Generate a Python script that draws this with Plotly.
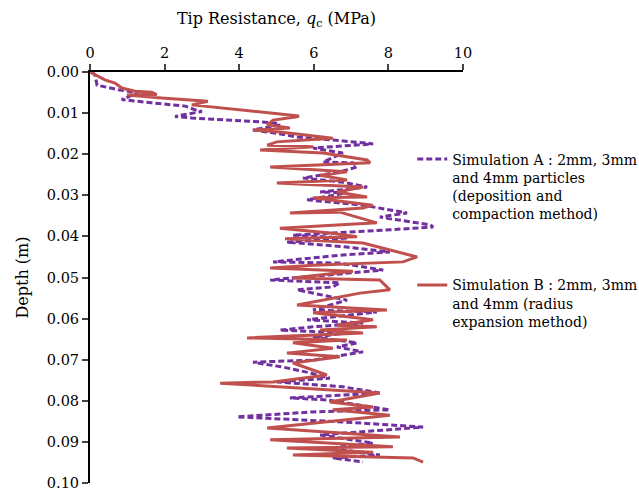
import plotly.graph_objects as go

# Simulation A (deposition and compaction) - tip resistance (MPa) vs depth (m)
a_qc = [0.05, 0.13, 0.19, 0.75, 1.29, 0.85, 1.65, 2.55, 2.82, 3.00, 2.28, 2.73, 4.34, 4.96,
        5.09, 4.37, 4.91, 5.55, 7.43, 7.59, 5.98, 6.78, 6.25, 7.05, 7.16, 6.70, 5.71, 6.78,
        7.43, 6.17, 6.89, 5.98, 5.82, 7.32, 8.50, 7.77, 9.12, 9.20, 8.04, 5.44, 6.89, 5.28,
        6.89, 8.04, 6.78, 4.91, 6.70, 7.51, 7.86, 4.83, 6.70, 6.51, 5.55, 6.89, 5.98, 7.69,
        5.82, 7.32, 5.98, 5.09, 6.89, 5.98, 7.16, 6.62, 7.32, 5.98, 4.37, 5.17, 5.90, 6.43,
        5.01, 6.78, 7.77, 5.36, 6.35, 8.04, 5.98, 3.94, 6.89, 8.93, 6.17, 7.59, 6.43, 7.77,
        6.51, 7.32]
a_depth = [0.0000, 0.0007, 0.0032, 0.0043, 0.0051, 0.0067, 0.0075, 0.0083, 0.0092, 0.0096,
           0.0108, 0.0112, 0.0120, 0.0124, 0.0129, 0.0141, 0.0148, 0.0158, 0.0173, 0.0175,
           0.0185, 0.0197, 0.0219, 0.0221, 0.0231, 0.0243, 0.0258, 0.0268, 0.0280, 0.0292,
           0.0294, 0.0307, 0.0311, 0.0324, 0.0343, 0.0353, 0.0372, 0.0377, 0.0384, 0.0397,
           0.0404, 0.0414, 0.0426, 0.0438, 0.0445, 0.0462, 0.0465, 0.0477, 0.0482, 0.0506,
           0.0513, 0.0523, 0.0530, 0.0555, 0.0579, 0.0584, 0.0603, 0.0611, 0.0620, 0.0628,
           0.0635, 0.0645, 0.0659, 0.0669, 0.0681, 0.0701, 0.0706, 0.0718, 0.0732, 0.0745,
           0.0754, 0.0766, 0.0781, 0.0793, 0.0798, 0.0822, 0.0827, 0.0839, 0.0852, 0.0864,
           0.0883, 0.0903, 0.0915, 0.0932, 0.0939, 0.0949]

# Simulation B (radius expansion)
b_qc = [0.00, 0.40, 0.67, 0.85, 1.21, 1.65, 1.79, 0.99, 1.92, 2.63, 3.16, 2.73, 3.62, 5.23,
        5.60, 5.55, 4.91, 4.75, 5.36, 4.37, 5.09, 6.51, 5.01, 4.75, 5.98, 4.56, 6.25, 7.43,
        7.51, 4.83, 6.89, 6.17, 6.89, 5.01, 7.32, 6.62, 7.43, 5.98, 7.58, 7.32, 5.36, 6.70,
        7.69, 5.09, 6.43, 7.16, 5.23, 7.32, 8.77, 8.39, 5.98, 4.83, 7.05, 5.44, 7.77, 8.04,
        7.24, 5.55, 7.96, 5.98, 7.59, 6.62, 7.69, 6.17, 7.32, 4.21, 6.89, 5.44, 6.51, 5.28,
        6.70, 5.44, 5.98, 6.35, 4.91, 3.49, 7.77, 6.43, 7.59, 6.51, 8.04, 4.75, 8.31, 4.83,
        8.12, 5.28, 7.59, 5.44, 8.66, 8.93]
b_depth = [0.0000, 0.0019, 0.0027, 0.0039, 0.0047, 0.0049, 0.0055, 0.0056, 0.0063, 0.0067,
           0.0071, 0.0080, 0.0088, 0.0104, 0.0107, 0.0109, 0.0117, 0.0129, 0.0136, 0.0141,
           0.0146, 0.0161, 0.0170, 0.0178, 0.0182, 0.0190, 0.0197, 0.0214, 0.0221, 0.0231,
           0.0243, 0.0251, 0.0263, 0.0270, 0.0280, 0.0292, 0.0304, 0.0306, 0.0324, 0.0331,
           0.0343, 0.0341, 0.0367, 0.0380, 0.0392, 0.0401, 0.0406, 0.0416, 0.0450, 0.0462,
           0.0470, 0.0477, 0.0485, 0.0501, 0.0506, 0.0530, 0.0538, 0.0567, 0.0579, 0.0586,
           0.0603, 0.0616, 0.0620, 0.0628, 0.0635, 0.0647, 0.0652, 0.0659, 0.0672, 0.0684,
           0.0693, 0.0708, 0.0725, 0.0737, 0.0754, 0.0757, 0.0781, 0.0803, 0.0815, 0.0822,
           0.0835, 0.0866, 0.0888, 0.0895, 0.0912, 0.0915, 0.0925, 0.0932, 0.0939, 0.0949]

x_ticks = [0, 2, 4, 6, 8, 10]
y_ticks = [0.00, 0.01, 0.02, 0.03, 0.04, 0.05, 0.06, 0.07, 0.08, 0.09, 0.10]

name_a = "Simulation A : 2mm, 3mm<br>and 4mm particles<br>(deposition and<br>compaction method)"
name_b = "Simulation B : 2mm, 3mm<br>and 4mm (radius<br>expansion method)"

FONT = "DejaVu Serif"

fig = go.Figure()
fig.add_trace(go.Scatter(x=a_qc, y=a_depth, mode="lines", name=name_a, legendgroup="a",
                         line=dict(color="#7030A0", width=3, dash="6px,3px")))
fig.add_trace(go.Scatter(x=b_qc, y=b_depth, mode="lines", name=name_b, legendgroup="b",
                         line=dict(color="#C0504D", width=3)))

fig.update_layout(
    width=639, height=492,
    margin=dict(l=90, r=176, t=72, b=9, autoexpand=False),
    paper_bgcolor="white", plot_bgcolor="white",
    font=dict(family=FONT, size=14.5, color="black"),
    showlegend=True,
    legend=dict(x=0.864, y=0.826, xanchor="left", yanchor="top", valign="top",
                font=dict(family=FONT, size=14, color="black"),
                tracegroupgap=50, itemwidth=30, bgcolor="rgba(0,0,0,0)"),
    xaxis=dict(side="top", range=[0, 10], tickvals=x_ticks, ticks="outside", ticklen=6,
               tickwidth=1.5, showline=True, linecolor="black", linewidth=2,
               showgrid=False, zeroline=False,
               tickfont=dict(family=FONT, size=14.5),
               title=dict(text="Tip Resistance, <i>q</i><sub>c</sub> (MPa)",
                          font=dict(family=FONT, size=16), standoff=17)),
    yaxis=dict(range=[0.10, 0.0], tickvals=y_ticks, tickformat=".2f", ticks="outside",
               ticklen=6, tickwidth=1.5, showline=True, linecolor="black", linewidth=2,
               showgrid=False, zeroline=False,
               tickfont=dict(family=FONT, size=14.5),
               title=dict(text="Depth (m)", font=dict(family=FONT, size=16), standoff=14)),
)

fig.write_html("out.html")
